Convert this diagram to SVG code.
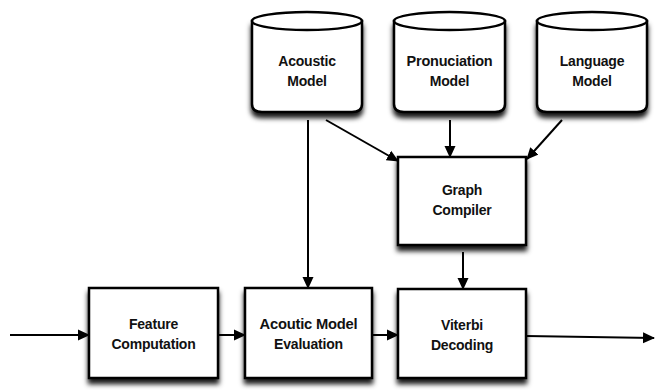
<svg xmlns="http://www.w3.org/2000/svg" width="658" height="390" viewBox="0 0 658 390">
<defs>
<filter id="sh" x="-20%" y="-20%" width="140%" height="150%">
<feDropShadow dx="0" dy="5" stdDeviation="2.5" flood-color="#000" flood-opacity="0.9"/>
</filter>
<marker id="ah" markerWidth="12" markerHeight="12" refX="11" refY="6" orient="auto" markerUnits="userSpaceOnUse" viewBox="0 0 12 12">
<path d="M0,0.5 L12,6 L0,11.5 z" fill="#000"/>
</marker>
<style>
.box{fill:#fff;stroke:#000;stroke-width:2.5;filter:url(#sh)}
.cyl{fill:#fff;stroke:#000;stroke-width:2.5}
.lbl{font-family:"Liberation Sans",Arial,sans-serif;font-size:14px;font-weight:bold;fill:#111;text-anchor:middle;letter-spacing:-0.2px}
.edge{stroke:#000;stroke-width:2;fill:none;marker-end:url(#ah)}
</style>
</defs>
<rect width="658" height="390" fill="#fff"/>
<g id="acoustic-model">
<path class="cyl" filter="url(#sh)" d="M252,21 L252,104 Q252,112 262,112 L352,112 Q362,112 362,104 L362,21 Z"/>
<ellipse class="cyl" cx="307" cy="21" rx="55" ry="9"/>
<text class="lbl" x="307" y="66">Acoustic</text>
<text class="lbl" x="307" y="86">Model</text>
</g>
<g id="pronunciation-model">
<path class="cyl" filter="url(#sh)" d="M394,21 L394,104 Q394,112 404,112 L495,112 Q505,112 505,104 L505,21 Z"/>
<ellipse class="cyl" cx="449.5" cy="21" rx="55.5" ry="9"/>
<text class="lbl" x="449.5" y="66" textLength="86" lengthAdjust="spacingAndGlyphs">Pronuciation</text>
<text class="lbl" x="449.5" y="86">Model</text>
</g>
<g id="language-model">
<path class="cyl" filter="url(#sh)" d="M537,21 L537,104 Q537,112 547,112 L637,112 Q647,112 647,104 L647,21 Z"/>
<ellipse class="cyl" cx="592" cy="21" rx="55" ry="9"/>
<text class="lbl" x="592" y="66">Language</text>
<text class="lbl" x="592" y="86">Model</text>
</g>
<g id="graph-compiler">
<rect class="box" x="398" y="157" width="128" height="88"/>
<text class="lbl" x="462" y="195">Graph</text>
<text class="lbl" x="462" y="215">Compiler</text>
</g>
<g id="feature-computation">
<rect class="box" x="89" y="288" width="129" height="90"/>
<text class="lbl" x="153.5" y="329">Feature</text>
<text class="lbl" x="153.5" y="349">Computation</text>
</g>
<g id="acoustic-model-evaluation">
<rect class="box" x="245" y="288" width="127" height="90"/>
<text class="lbl" x="308.5" y="329" textLength="98" lengthAdjust="spacingAndGlyphs">Acoutic Model</text>
<text class="lbl" x="308.5" y="349">Evaluation</text>
</g>
<g id="viterbi-decoding">
<rect class="box" x="398" y="289" width="128" height="89"/>
<text class="lbl" x="462" y="330">Viterbi</text>
<text class="lbl" x="462" y="350">Decoding</text>
</g>
<g id="connectors">
<line class="edge" x1="10" y1="335" x2="89" y2="335"/>
<line class="edge" x1="218" y1="335" x2="245" y2="335"/>
<line class="edge" x1="372" y1="335" x2="398" y2="335"/>
<line class="edge" x1="526" y1="336" x2="654" y2="338"/>
<line class="edge" x1="308" y1="120" x2="308" y2="288"/>
<line class="edge" x1="326" y1="120" x2="398" y2="161"/>
<line class="edge" x1="450" y1="120" x2="450" y2="157"/>
<line class="edge" x1="562" y1="120" x2="527" y2="159"/>
<line class="edge" x1="463" y1="252" x2="463" y2="289"/>
</g>
</svg>
